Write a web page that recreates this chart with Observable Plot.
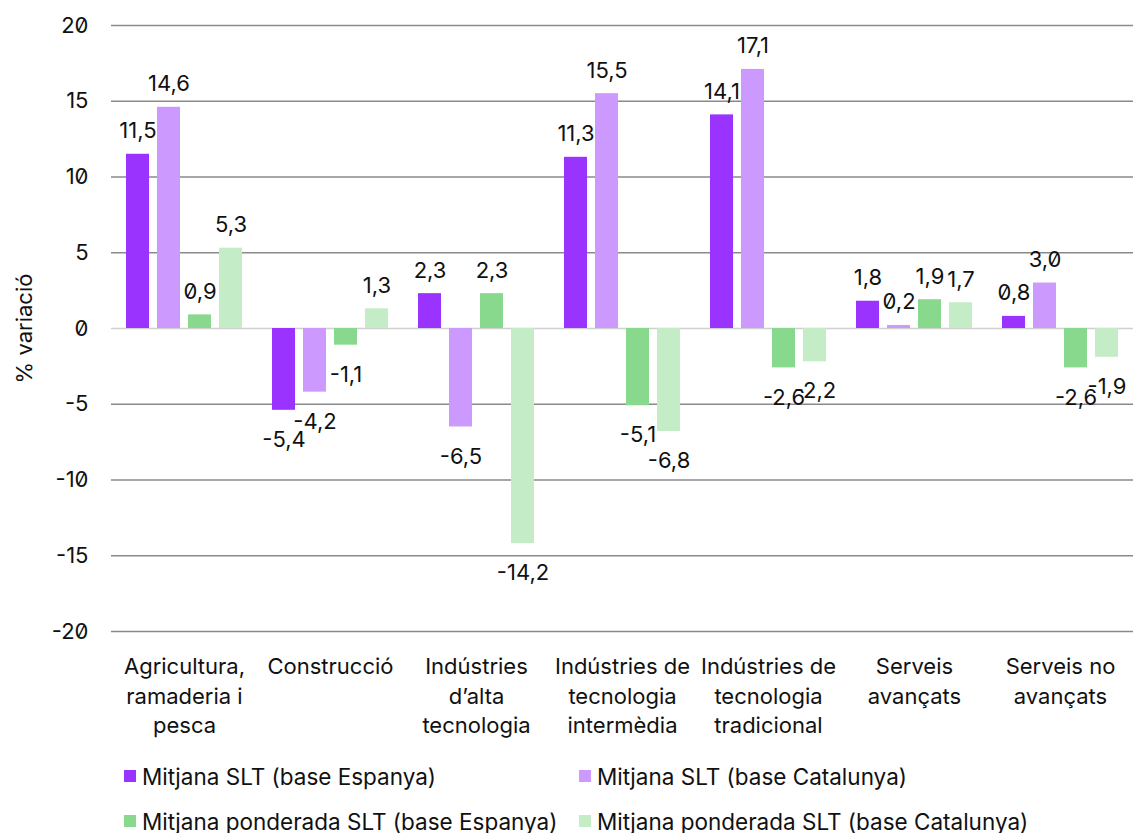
<!DOCTYPE html>
<html><head><meta charset="utf-8">
<script src="https://cdn.jsdelivr.net/npm/d3@7"></script>
<script src="https://cdn.jsdelivr.net/npm/@observablehq/plot@0.6"></script>
<style>
body{margin:0;background:#fff;font-family:Inter,"Noto Sans",sans-serif;font-feature-settings:"zero" 1;}
svg text{font-feature-settings:"zero" 1;font-variant:normal;}
#legend{display:grid;grid-template-columns:455px 455px;padding-left:124px;row-gap:19px;margin-top:13px;font-size:22.5px;color:#111;}
.item{display:flex;align-items:center;height:26px;white-space:nowrap;}
.sw{width:12px;height:12px;margin-right:6px;flex:none;}
</style></head>
<body>
<div id="chart"></div>
<div id="legend"></div>
<script>
const categories = ["Agricultura,\nramaderia i\npesca","Construcció","Indústries\nd’alta\ntecnologia","Indústries de\ntecnologia\nintermèdia","Indústries de\ntecnologia\ntradicional","Serveis\navançats","Serveis no\navançats"];
const series = ["Mitjana SLT (base Espanya)","Mitjana SLT (base Catalunya)","Mitjana ponderada SLT (base Espanya)","Mitjana ponderada SLT (base Catalunya)"];
const colors = ["#9b33ff","#cc99ff","#88d98e","#c4ecc6"];
const mitjanaEspanya = [11.5,-5.4,2.3,11.3,14.1,1.8,0.8];
const mitjanaCatalunya = [14.6,-4.2,-6.5,15.5,17.1,0.2,3.0];
const ponderadaEspanya = [0.9,-1.1,2.3,-5.1,-2.6,1.9,-2.6];
const ponderadaCatalunya = [5.3,1.3,-14.2,-6.8,-2.2,1.7,-1.9];
const yTicks = [-20,-15,-10,-5,0,5,10,15,20];
const yLabel = "% variació";

const allValues = [mitjanaEspanya,mitjanaCatalunya,ponderadaEspanya,ponderadaCatalunya];
const data = [];
categories.forEach((c,i)=>allValues.forEach((vals,s)=>data.push({category:c,series:series[s],value:vals[i]})));
const fmt = v => v.toFixed(1).replace(".",",");

const chart = Plot.plot({
  width:1136, height:750,
  marginLeft:108, marginRight:0, marginTop:25, marginBottom:119,
  style:{fontFamily:"Inter, 'Noto Sans', sans-serif", fontSize:"22px", color:"#111", background:"#fff"},
  fx:{domain:categories, padding:0, label:null},
  x:{domain:series, paddingInner:0.25, paddingOuter:0.42, axis:null},
  y:{domain:[-20,20], label:null},
  color:{domain:series, range:colors},
  marks:[
    Plot.gridY(yTicks.filter(d=>d!==0),{stroke:"#8a8a8a",strokeOpacity:1,strokeWidth:1.5}),
    Plot.ruleY([0],{stroke:"#d0d0d0",strokeWidth:1.5}),
    Plot.axisY({ticks:yTicks,tickSize:0,tickPadding:23,tickFormat:d=>String(d),fontVariant:"normal",
      label:yLabel,labelAnchor:"center",labelArrow:"none",labelOffset:95,fontSize:22}),
    Plot.axisFx({anchor:"bottom",tickSize:0,tickPadding:22,label:null,fontSize:22,lineHeight:1.33}),
    Plot.barY(data,{fx:"category",x:"series",y:"value",fill:"series"}),
    Plot.text(data.filter(d=>d.value>=0),{fx:"category",x:"series",y:"value",text:d=>fmt(d.value),lineAnchor:"bottom",dy:-16,fontSize:22,fill:"#111"}),
    Plot.text(data.filter(d=>d.value<0),{fx:"category",x:"series",y:"value",text:d=>fmt(d.value),lineAnchor:"top",dy:21,fontSize:22,fill:"#111"})
  ]
});
document.getElementById("chart").appendChild(chart);

const legend = document.getElementById("legend");
series.forEach((s,i)=>{
  const it=document.createElement("div");it.className="item";
  const sw=document.createElement("span");sw.className="sw";sw.style.background=colors[i];
  const t=document.createElement("span");t.textContent=s;
  it.appendChild(sw);it.appendChild(t);legend.appendChild(it);
});
</script>
</body></html>
